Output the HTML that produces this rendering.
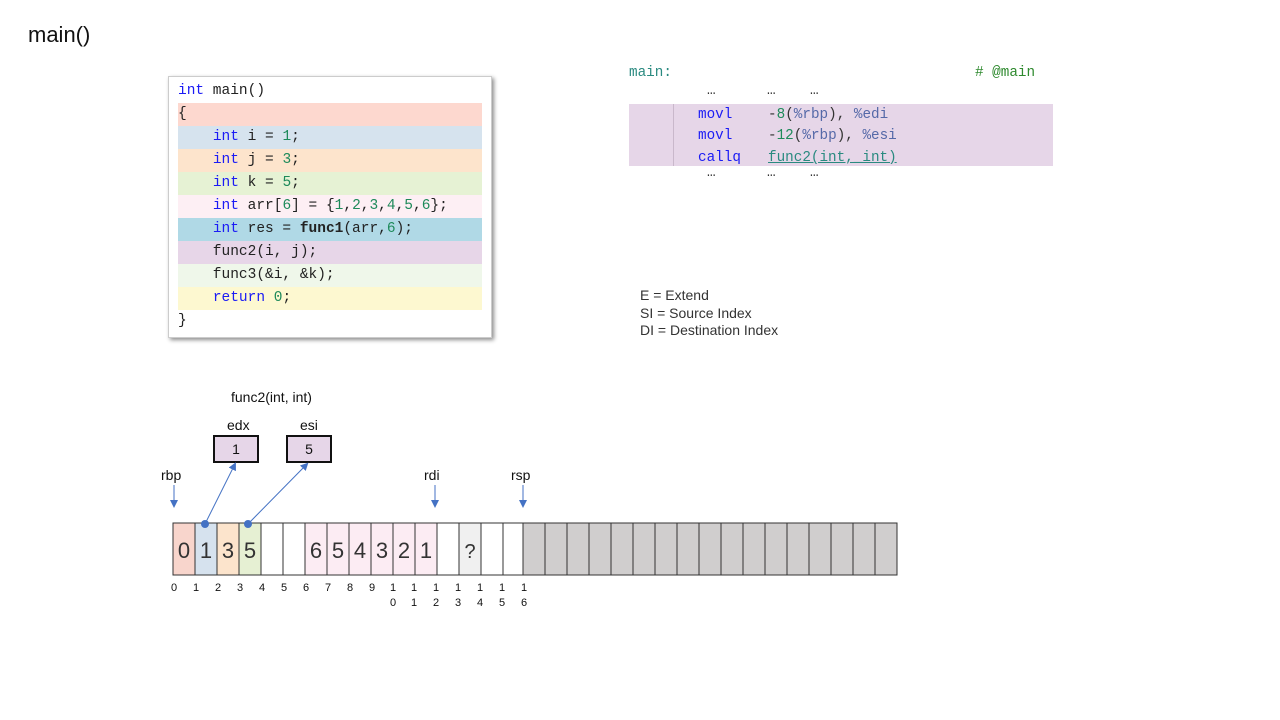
<!DOCTYPE html>
<html><head><meta charset="utf-8"><style>
body{margin:0;width:1280px;height:720px;background:#fff;position:relative;overflow:hidden;font-family:"Liberation Sans",sans-serif}
.t{position:absolute}
.code{position:absolute;left:168px;top:76px;width:322px;height:260px;background:#fff;border:1px solid #ccc;box-shadow:2px 2px 4px rgba(0,0,0,.45);font-family:"Liberation Mono",monospace;font-size:14.5px;color:#222}
.ln{position:absolute;left:9px;width:304px;height:23px;line-height:23px;white-space:pre}
.k{color:#1b1bf5}.n{color:#1e8a5a}
.asm{font-family:"Liberation Mono",monospace;font-size:14.3px;position:absolute;white-space:pre}
</style></head><body>
<div class="t" style="left:28px;top:22px;font-size:22px;color:#111">main()</div>

<div class="code">
<div class="ln" style="top:3px"><span class="k">int</span> main()</div>
<div class="ln" style="top:26px;background:#fdd8cf">{</div>
<div class="ln" style="top:49px;background:#d6e3ee">    <span class="k">int</span> i = <span class="n">1</span>;</div>
<div class="ln" style="top:72px;background:#fde4cc">    <span class="k">int</span> j = <span class="n">3</span>;</div>
<div class="ln" style="top:95px;background:#e6f2d4">    <span class="k">int</span> k = <span class="n">5</span>;</div>
<div class="ln" style="top:118px;background:#fdeff4">    <span class="k">int</span> arr[<span class="n">6</span>] = {<span class="n">1</span>,<span class="n">2</span>,<span class="n">3</span>,<span class="n">4</span>,<span class="n">5</span>,<span class="n">6</span>};</div>
<div class="ln" style="top:141px;background:#b0d9e6">    <span class="k">int</span> res = <b>func1</b>(arr,<span class="n">6</span>);</div>
<div class="ln" style="top:164px;background:#e7d6e8">    func2(i, j);</div>
<div class="ln" style="top:187px;background:#eff7ea">    func3(&amp;i, &amp;k);</div>
<div class="ln" style="top:210px;background:#fdf8d0">    <span class="k">return</span> <span class="n">0</span>;</div>
<div class="ln" style="top:233px">}</div>
</div>

<div class="asm" style="left:629px;top:65px;color:#2a8a80">main:</div>
<div class="asm" style="left:975px;top:65px;color:#2f8a2f"># @main</div>
<div class="asm" style="left:707px;top:83px;color:#333">…      …    …</div>
<div style="position:absolute;left:629px;top:104px;width:424px;height:62px;background:#e6d6e8"></div>
<div style="position:absolute;left:673px;top:104px;width:1px;height:62px;background:#c9b8cb"></div>
<div class="asm" style="left:698px;top:107px;color:#1b1bf5">movl</div>
<div class="asm" style="left:768px;top:107px;color:#333">-<span style="color:#1e8a5a">8</span>(<span style="color:#5569a8">%rbp</span>), <span style="color:#5569a8">%edi</span></div>
<div class="asm" style="left:698px;top:128px;color:#1b1bf5">movl</div>
<div class="asm" style="left:768px;top:128px;color:#333">-<span style="color:#1e8a5a">12</span>(<span style="color:#5569a8">%rbp</span>), <span style="color:#5569a8">%esi</span></div>
<div class="asm" style="left:698px;top:150px;color:#1b1bf5;height:16px;overflow:hidden">callq</div>
<div class="asm" style="left:768px;top:150px;color:#2a8a80;text-decoration:underline;height:16px;overflow:hidden">func2(int,_int)</div>
<div class="asm" style="left:707px;top:165px;color:#333">…      …    …</div>

<div class="t" style="left:640px;top:287px;font-size:14px;line-height:17.5px;color:#333">E = Extend<br>SI = Source Index<br>DI = Destination Index</div>

<svg width="1280" height="720" style="position:absolute;left:0;top:0" font-family="Liberation Sans, sans-serif">
<defs><marker id="a" markerWidth="8" markerHeight="8" refX="6" refY="4" orient="auto" markerUnits="userSpaceOnUse"><path d="M0,0 L8,4 L0,8z" fill="#4472c4"/></marker></defs>
<text x="231" y="402" font-size="14" fill="#111">func2(int, int)</text>
<text x="227" y="430" font-size="14" fill="#111">edx</text>
<text x="300" y="430" font-size="14" fill="#111">esi</text>
<rect x="214" y="436" width="44" height="26" fill="#e6d6e8" stroke="#111" stroke-width="2"/>
<rect x="287" y="436" width="44" height="26" fill="#e6d6e8" stroke="#111" stroke-width="2"/>
<text x="236" y="454" font-size="14" text-anchor="middle" fill="#111">1</text>
<text x="309" y="454" font-size="14" text-anchor="middle" fill="#111">5</text>
<text x="161" y="480" font-size="14" fill="#111">rbp</text>
<text x="424" y="480" font-size="14" fill="#111">rdi</text>
<text x="511" y="480" font-size="14" fill="#111">rsp</text>
<g stroke="#333" stroke-width="1">
<rect x="173" y="523" width="22" height="52" fill="#f8d5cc"/>
<rect x="195" y="523" width="22" height="52" fill="#d6e2ee"/>
<rect x="217" y="523" width="22" height="52" fill="#fce4cc"/>
<rect x="239" y="523" width="22" height="52" fill="#e6f0d3"/>
<rect x="261" y="523" width="22" height="52" fill="#fff"/>
<rect x="283" y="523" width="22" height="52" fill="#fff"/>
<rect x="305" y="523" width="22" height="52" fill="#fcecf3"/>
<rect x="327" y="523" width="22" height="52" fill="#fcecf3"/>
<rect x="349" y="523" width="22" height="52" fill="#fcecf3"/>
<rect x="371" y="523" width="22" height="52" fill="#fcecf3"/>
<rect x="393" y="523" width="22" height="52" fill="#fcecf3"/>
<rect x="415" y="523" width="22" height="52" fill="#fcecf3"/>
<rect x="437" y="523" width="22" height="52" fill="#fff"/>
<rect x="459" y="523" width="22" height="52" fill="#f0f0f0"/>
<rect x="481" y="523" width="22" height="52" fill="#fff"/>
<rect x="503" y="523" width="22" height="52" fill="#fff"/>
</g>
<g stroke="#333" stroke-width="1" fill="#d0cece">
<rect x="523" y="523" width="22" height="52"/><rect x="545" y="523" width="22" height="52"/><rect x="567" y="523" width="22" height="52"/><rect x="589" y="523" width="22" height="52"/><rect x="611" y="523" width="22" height="52"/><rect x="633" y="523" width="22" height="52"/><rect x="655" y="523" width="22" height="52"/><rect x="677" y="523" width="22" height="52"/><rect x="699" y="523" width="22" height="52"/><rect x="721" y="523" width="22" height="52"/><rect x="743" y="523" width="22" height="52"/><rect x="765" y="523" width="22" height="52"/><rect x="787" y="523" width="22" height="52"/><rect x="809" y="523" width="22" height="52"/><rect x="831" y="523" width="22" height="52"/><rect x="853" y="523" width="22" height="52"/><rect x="875" y="523" width="22" height="52"/>
</g>
<g stroke="#4472c4" stroke-width="1" marker-end="url(#a)">
<line x1="174" y1="485" x2="174" y2="506"/>
<line x1="435" y1="485" x2="435" y2="506"/>
<line x1="523" y1="485" x2="523" y2="506"/>
<line x1="205" y1="524" x2="235" y2="464"/>
<line x1="248" y1="524" x2="307" y2="464"/>
</g>
<circle cx="205" cy="524" r="4" fill="#4472c4"/>
<circle cx="248" cy="524" r="4" fill="#4472c4"/>
<g font-size="22" fill="#333" text-anchor="middle">
<text x="184" y="558">0</text><text x="206" y="558">1</text><text x="228" y="558">3</text><text x="250" y="558">5</text>
<text x="316" y="558">6</text><text x="338" y="558">5</text><text x="360" y="558">4</text><text x="382" y="558">3</text><text x="404" y="558">2</text><text x="426" y="558">1</text>
<text x="470" y="558" font-size="20">?</text>
</g>
<g font-size="11" fill="#111" text-anchor="middle">
<text x="174" y="591">0</text><text x="196" y="591">1</text><text x="218" y="591">2</text><text x="240" y="591">3</text><text x="262" y="591">4</text><text x="284" y="591">5</text><text x="306" y="591">6</text><text x="328" y="591">7</text><text x="350" y="591">8</text><text x="372" y="591">9</text>
<text x="393" y="591">1</text><text x="393" y="606">0</text>
<text x="414" y="591">1</text><text x="414" y="606">1</text>
<text x="436" y="591">1</text><text x="436" y="606">2</text>
<text x="458" y="591">1</text><text x="458" y="606">3</text>
<text x="480" y="591">1</text><text x="480" y="606">4</text>
<text x="502" y="591">1</text><text x="502" y="606">5</text>
<text x="524" y="591">1</text><text x="524" y="606">6</text>
</g>
</svg>
</body></html>
